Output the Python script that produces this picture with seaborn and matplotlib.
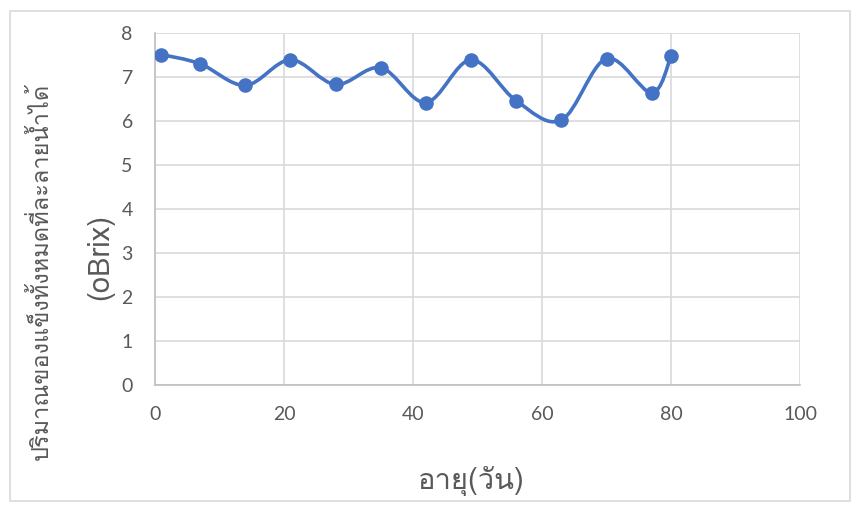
import numpy as np
import pandas as pd
import seaborn as sns
import matplotlib
matplotlib.use("Agg")
import matplotlib.pyplot as plt
from matplotlib.path import Path
from matplotlib.patches import PathPatch, Rectangle
from matplotlib import font_manager

# ---- data ----
age_days = [1, 7, 14, 21, 28, 35, 42, 49, 56, 63, 70, 77, 80]
brix = [7.51, 7.30, 6.81, 7.39, 6.83, 7.21, 6.42, 7.39, 6.46, 6.02, 7.42, 6.64, 7.47]
x_ticks = [0, 20, 40, 60, 80, 100]
y_ticks = [0, 1, 2, 3, 4, 5, 6, 7, 8]
x_label = "อายุ(วัน)"
y_label_1 = "ปริมาณของแข็งทั้งหมดที่ละลายน้ำได้"
y_label_2 = "(oBrix)"

# ---- find a font with Thai glyphs ----
thai_font = None
try:
    from fontTools.ttLib import TTFont
    seen = set()
    for f in font_manager.fontManager.ttflist:
        if f.fname in seen:
            continue
        seen.add(f.fname)
        try:
            tt = TTFont(f.fname, fontNumber=0, lazy=True)
            cmap = tt.getBestCmap()
            if cmap and 0x0E2D in cmap and 0x0E34 in cmap:
                thai_font = f.name
                break
        except Exception:
            pass
except Exception:
    pass

sns.set_theme(style="whitegrid")
fam = ([thai_font] if thai_font else []) + ["Open Sans", "DejaVu Sans"]
plt.rcParams["font.family"] = fam

blue = "#4472C4"
grey_txt = "#595959"
grid_c = "#D9D9D9"

df = pd.DataFrame({"age": age_days, "brix": brix})

fig = plt.figure(figsize=(8.57, 5.11), dpi=100)
fig.patch.set_facecolor("white")
ax = fig.add_axes([155 / 857, 1 - 385 / 511, (800 - 155) / 857, (385 - 33) / 511])

# smoothed connecting line (Excel-style Catmull-Rom Bezier through data points)
pts = np.column_stack([age_days, brix]).astype(float)
n = len(pts)
verts = [tuple(pts[0])]
codes = [Path.MOVETO]
for i in range(n - 1):
    p0 = pts[i - 1] if i > 0 else pts[i]
    p1 = pts[i]
    p2 = pts[i + 1]
    p3 = pts[i + 2] if i + 2 < n else pts[i + 1]
    c1 = p1 + (p2 - p0) / 6.0
    c2 = p2 - (p3 - p1) / 6.0
    verts += [tuple(c1), tuple(c2), tuple(p2)]
    codes += [Path.CURVE4] * 3
ax.add_patch(PathPatch(Path(verts, codes), facecolor="none", edgecolor=blue,
                       lw=2.6, zorder=3, capstyle="round", joinstyle="round"))

sns.scatterplot(data=df, x="age", y="brix", ax=ax, color=blue, s=110,
                edgecolor=blue, linewidth=0, zorder=4, legend=False)

ax.set_xlim(0, 100)
ax.set_ylim(0, 8)
ax.set_xticks(x_ticks)
ax.set_yticks(y_ticks)
ax.grid(True, color=grid_c, lw=1.2)
for s in ["top", "right"]:
    ax.spines[s].set_visible(False)
ax.spines["left"].set_color("#BFBFBF")
ax.spines["bottom"].set_color("#BFBFBF")
ax.spines["left"].set_linewidth(1.2)
ax.spines["bottom"].set_linewidth(1.2)
ax.tick_params(axis="both", colors=grey_txt, labelsize=14, length=0)
ax.tick_params(axis="x", pad=15)
ax.tick_params(axis="y", pad=16)
for lab in ax.get_xticklabels() + ax.get_yticklabels():
    lab.set_fontfamily(["Lato", "DejaVu Sans"])
ax.set_xlabel("")
ax.set_ylabel("")

fig.text(471 / 857, 1 - 481 / 511, x_label, ha="center", va="center",
         fontsize=21, color=grey_txt)
fig.text(41 / 857, 1 - 271 / 511, y_label_1, ha="center", va="center",
         rotation=90, fontsize=17, color=grey_txt)
fig.text(100 / 857, 1 - 257 / 511, y_label_2, ha="center", va="center",
         rotation=90, fontsize=21, color=grey_txt)

fig.patches.append(Rectangle((10 / 857, 10 / 511), 840 / 857, 490 / 511,
                             transform=fig.transFigure, fill=False,
                             edgecolor="#D9D9D9", lw=1.2))

fig.savefig("out.png", dpi=100)
